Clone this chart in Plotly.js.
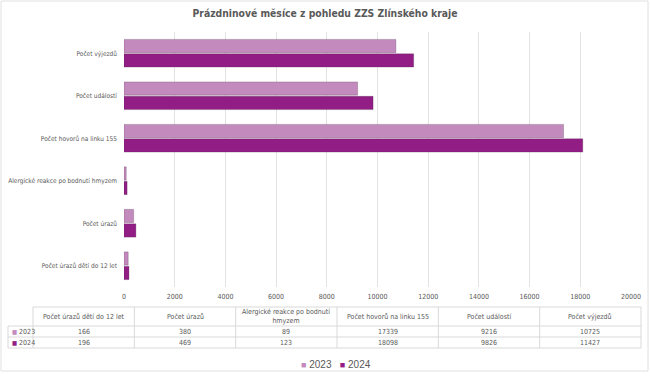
<!DOCTYPE html>
<html>
<head>
<meta charset="utf-8">
<script src="https://cdn.plot.ly/plotly-3.0.1.min.js"></script>
<style>html,body{margin:0;padding:0;background:#fff;}#chart{width:650px;height:378px;}</style>
</head>
<body>
<div id="chart"></div>
<script>
const categories = ["Počet úrazů dětí do 12 let", "Počet úrazů", "Alergické reakce po bodnutí hmyzem", "Počet hovorů na linku 155", "Počet událostí", "Počet výjezdů"];
const headerLabels = ["Počet úrazů dětí do 12 let", "Počet úrazů", "Alergické reakce po bodnutí<br>hmyzem", "Počet hovorů na linku 155", "Počet událostí", "Počet výjezdů"];
const values2023 = [166, 380, 89, 17339, 9216, 10725];
const values2024 = [196, 469, 123, 18098, 9826, 11427];
const seriesNames = ["2023", "2024"];
const xTicks = [0, 2000, 4000, 6000, 8000, 10000, 12000, 14000, 16000, 18000, 20000];

const c2023 = "#c38abd";
const c2024 = "#921d84";
const txt = "#595959";
const FONT = "'DejaVu Sans Condensed', 'Liberation Sans', sans-serif";
const W = 650, H = 378;
const px = v => v / W;
const py = v => 1 - v / H;

const colors = [c2023, c2024];
const seriesValues = [values2023, values2024];

const traces = [];
for (let s = 0; s < 2; s++) {
  traces.push({
    type: "bar", orientation: "h", y: categories, x: seriesValues[s],
    name: seriesNames[s], hoverinfo: "x+y", showlegend: false,
    marker: {color: colors[s], line: {color: "rgba(70,40,70,0.25)", width: 1}}
  });
}

// data table built with shapes + annotations
const colEdges = [8, 33];
const dataColW = (641 - 33) / categories.length;
for (let i = 1; i <= categories.length; i++) colEdges.push(33 + dataColW * i);
const rowEdges = [307, 326, 337, 348];
const gridC = "#d9d9d9";

const shapes = [{
  type: "rect", xref: "paper", yref: "paper",
  x0: px(1), x1: px(648), y0: py(371), y1: py(1),
  line: {color: "#e0e0e0", width: 1}, fillcolor: "rgba(0,0,0,0)", layer: "below"
}];
function hline(x0, x1, y) {
  shapes.push({type: "line", xref: "paper", yref: "paper", x0: px(x0), x1: px(x1), y0: py(y), y1: py(y), line: {color: gridC, width: 1}});
}
function vline(x, y0, y1) {
  shapes.push({type: "line", xref: "paper", yref: "paper", x0: px(x), x1: px(x), y0: py(y0), y1: py(y1), line: {color: gridC, width: 1}});
}
hline(33, 641, rowEdges[0]);
for (let r = 1; r < rowEdges.length; r++) hline(8, 641, rowEdges[r]);
vline(8, rowEdges[1], rowEdges[3]);
for (let c = 1; c < colEdges.length; c++) vline(colEdges[c], rowEdges[0], rowEdges[3]);

const annotations = [];
const tFont = {family: FONT, size: 7, color: txt};
for (let i = 0; i < categories.length; i++) {
  const cx = (colEdges[i + 1] + colEdges[i + 2]) / 2;
  annotations.push({xref: "paper", yref: "paper", x: px(cx), y: py((rowEdges[0] + rowEdges[1]) / 2),
    text: headerLabels[i], showarrow: false, xanchor: "center", yanchor: "middle", font: tFont, align: "center"});
  for (let s = 0; s < 2; s++) {
    annotations.push({xref: "paper", yref: "paper", x: px(cx), y: py((rowEdges[s + 1] + rowEdges[s + 2]) / 2),
      text: String(seriesValues[s][i]), showarrow: false, xanchor: "center", yanchor: "middle", font: tFont});
  }
}
for (let s = 0; s < 2; s++) {
  annotations.push({xref: "paper", yref: "paper", x: px(10), y: py((rowEdges[s + 1] + rowEdges[s + 2]) / 2),
    text: "<span style='color:" + colors[s] + ";font-size:6px'>■</span> " + seriesNames[s],
    showarrow: false, xanchor: "left", yanchor: "middle", font: tFont});
}

// legend (compact, built from series names/colours)
const legendText = seriesNames.map((n, s) =>
  "<span style='color:" + colors[s] + ";font-size:9px'>■</span> " + n).join("   ");
annotations.push({xref: "paper", yref: "paper", x: px(336), y: py(364),
  text: legendText, showarrow: false, xanchor: "center", yanchor: "middle",
  font: {family: "'Liberation Sans', Arial, sans-serif", size: 10, color: txt}});

const layout = {
  width: W, height: H,
  margin: {l: 0, r: 0, t: 0, b: 0},
  paper_bgcolor: "#ffffff",
  plot_bgcolor: "#ffffff",
  font: {family: FONT, color: txt},
  title: {
    text: "<b>Prázdninové měsíce z pohledu ZZS Zlínského kraje</b>",
    font: {family: FONT, size: 10.3, color: txt},
    x: 0.5, xanchor: "center", y: py(13), yanchor: "middle"
  },
  barmode: "group",
  bargap: 0.32,
  bargroupgap: 0.08,
  xaxis: {
    domain: [px(124), px(631)],
    range: [0, 20000],
    tickmode: "array", tickvals: xTicks, ticktext: xTicks.map(String),
    showgrid: true, gridcolor: "#e3e3e3", gridwidth: 1,
    zeroline: false, showline: false,
    ticks: "", ticklabelstandoff: 4,
    tickfont: {family: FONT, size: 7, color: txt},
    fixedrange: true
  },
  yaxis: {
    domain: [py(287), py(32)],
    type: "category",
    categoryorder: "array",
    categoryarray: categories.slice().reverse(),
    autorange: "reversed",
    showgrid: false, zeroline: false, showline: false,
    ticks: "", ticklabelstandoff: 6,
    tickfont: {family: FONT, size: 6.5, color: txt},
    fixedrange: true
  },
  showlegend: false,
  shapes: shapes,
  annotations: annotations
};

Plotly.newPlot("chart", traces, layout, {displayModeBar: false, staticPlot: true});
</script>
</body>
</html>
